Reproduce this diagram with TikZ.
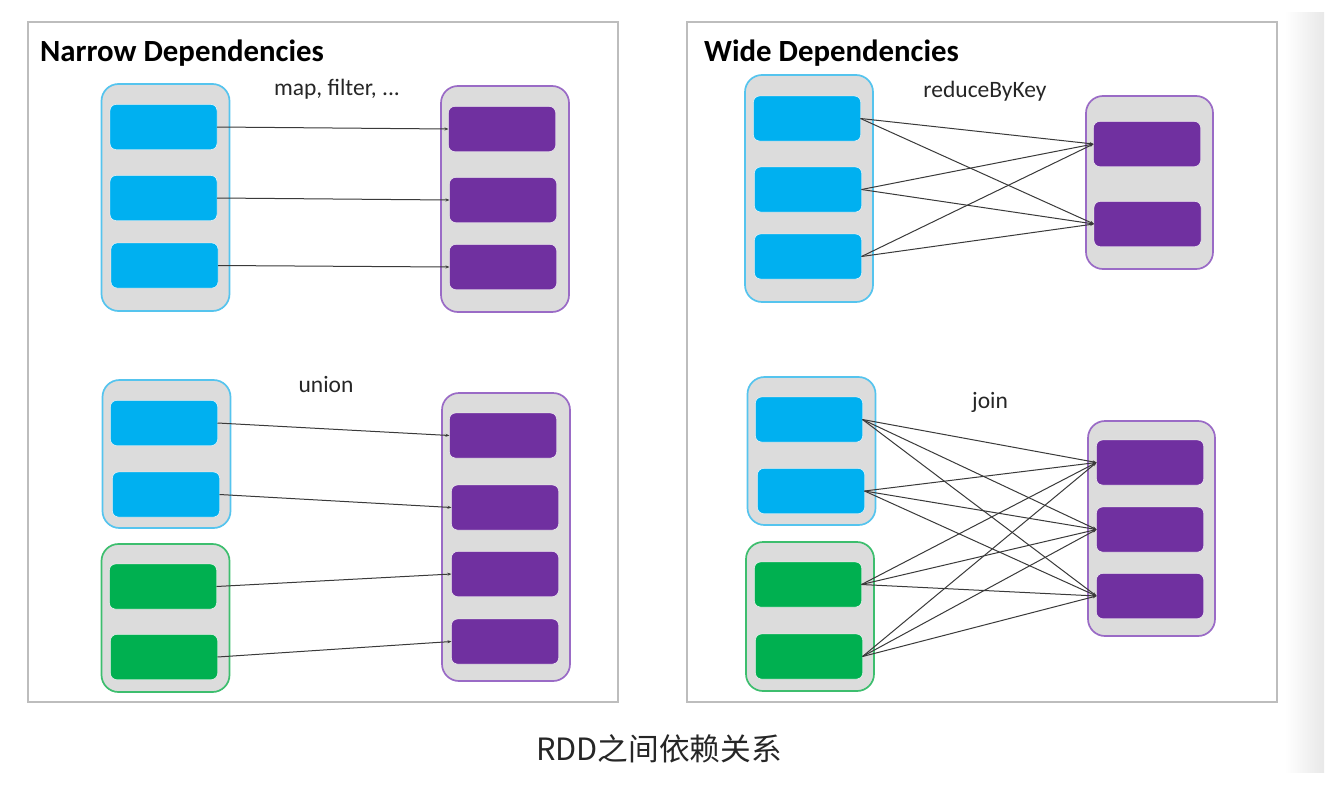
\documentclass[tikz,border=0pt]{standalone}
\usepackage{fontspec}
\setmainfont{Carlito}
\newfontfamily\cjk{Noto Sans CJK SC}
\usetikzlibrary{arrows.meta,shadings}
\definecolor{cblue}{HTML}{00B0F0}
\definecolor{cpurple}{HTML}{7030A0}
\definecolor{cgreen}{HTML}{00B050}
\definecolor{cgray}{HTML}{DCDCDC}
\definecolor{bblue}{HTML}{55C4EE}
\definecolor{bpurple}{HTML}{9A6BC6}
\definecolor{bgreen}{HTML}{3DBE6E}
\definecolor{frame}{HTML}{BDBDBD}
\definecolor{edge}{HTML}{3A3A3A}
\begin{document}
\begin{tikzpicture}[x=1pt,y=-1pt,
  cont/.style={draw, line width=1.7pt, fill=cgray, rounded corners=17pt, inner sep=0pt, outer sep=0pt, minimum width=128pt},
  contb/.style={cont, draw=bblue},
  contp/.style={cont, draw=bpurple},
  contg/.style={cont, draw=bgreen},
  part/.style={draw=white, line width=0.4pt, rounded corners=6pt, inner sep=0pt, outer sep=0pt, minimum width=107pt, minimum height=45pt},
  pb/.style={part, fill=cblue},
  pp/.style={part, fill=cpurple},
  pg/.style={part, fill=cgreen},
  dep/.style={draw=edge, line width=1pt, -{Stealth[length=4pt,width=3pt]}},
  ttl/.style={font=\fontsize{30.8}{36}\selectfont\bfseries, anchor=base west, inner sep=0pt},
  lbl/.style={font=\fontsize{23.5}{28}\selectfont, anchor=base, inner sep=0pt, text=black!85}
]
\useasboundingbox (0,0) rectangle (1344,798);
\fill[white] (0,0) rectangle (1344,798);
% right side shadow strip
\shade[left color=white, right color=black!9] (1285,12) rectangle (1324,772);
% frames
\draw[frame, line width=1.5pt, fill=white] (28,22) rectangle (618,702);
\draw[frame, line width=1.5pt, fill=white] (687,22) rectangle (1277,702);

\node[ttl] (t1) at (40,61) {Narrow Dependencies};
\node[ttl] (t2) at (704,61) {Wide Dependencies};

% ---------- Narrow: map, filter
\node[lbl] (l1) at (337,95) {map, filter, ...};
\node[contb, minimum height=227pt] (C1) at (165.5,197.5) {};
\node[pb] (b1) at (163.5,127) {};
\node[pb] (b2) at (163.5,198) {};
\node[pb] (b3) at (164.5,265.5) {};
\node[contp, minimum height=226pt] (P1) at (505,199) {};
\node[pp] (p1) at (502,129) {};
\node[pp] (p2) at (503,200) {};
\node[pp] (p3) at (503,267) {};
\draw[dep] (b1.east) -- (p1.west);
\draw[dep] (b2.east) -- (p2.west);
\draw[dep] (b3.east) -- (p3.west);

% ---------- Narrow: union
\node[lbl] (l2) at (326,392) {union};
\node[contb, minimum height=148pt] (C2) at (166.5,454) {};
\node[pb] (b4) at (164,423) {};
\node[pb] (b5) at (166,494.5) {};
\node[contg, minimum height=148pt] (G1) at (165.5,618) {};
\node[pg] (g1) at (163,586.5) {};
\node[pg] (g2) at (164,657) {};
\node[contp, minimum height=288pt] (P2) at (506,537) {};
\node[pp] (q1) at (503,435.5) {};
\node[pp] (q2) at (505,507.5) {};
\node[pp] (q3) at (505,574) {};
\node[pp] (q4) at (505,641.5) {};
\draw[dep] (b4.east) -- (q1.west);
\draw[dep] (b5.east) -- (q2.west);
\draw[dep] (g1.east) -- (q3.west);
\draw[dep] (g2.east) -- (q4.west);

% ---------- Wide: reduceByKey
\node[lbl] (l3) at (985,97) {reduceByKey};
\node[contb, minimum height=227pt] (C3) at (809,188.5) {};
\node[pb] (r1) at (807,118.5) {};
\node[pb] (r2) at (808,189.5) {};
\node[pb] (r3) at (808,256.5) {};
\node[contp, minimum width=127pt, minimum height=173pt] (P3) at (1149.5,182.5) {};
\node[pp] (s1) at (1147,144) {};
\node[pp] (s2) at (1147.5,224) {};
\foreach \a in {r1,r2,r3}{
  \foreach \b in {s1,s2}{
    \draw[dep] (\a.east) -- (\b.west);
  }
}

% ---------- Wide: join
\node[lbl] (l4) at (990,408) {join};
\node[contb, minimum height=148pt] (C4) at (811.5,451) {};
\node[pb] (u1) at (809,419.5) {};
\node[pb] (u2) at (811,491) {};
\node[contg, minimum height=149pt] (G2) at (810,616.5) {};
\node[pg] (u3) at (808,584.5) {};
\node[pg] (u4) at (809,656.5) {};
\node[contp, minimum width=127pt, minimum height=215pt] (P4) at (1151.5,528.5) {};
\node[pp] (v1) at (1150,462.5) {};
\node[pp] (v2) at (1150,529.5) {};
\node[pp] (v3) at (1150,596) {};
\foreach \a in {u1,u2,u3,u4}{
  \foreach \b in {v1,v2,v3}{
    \draw[dep] (\a.east) -- (\b.west);
  }
}

% caption
\node[font=\cjk\fontsize{30.7}{35}\selectfont, anchor=base, inner sep=0pt, text=black!85] (cap) at (659,760) {RDD之间依赖关系};
\end{tikzpicture}
\end{document}
